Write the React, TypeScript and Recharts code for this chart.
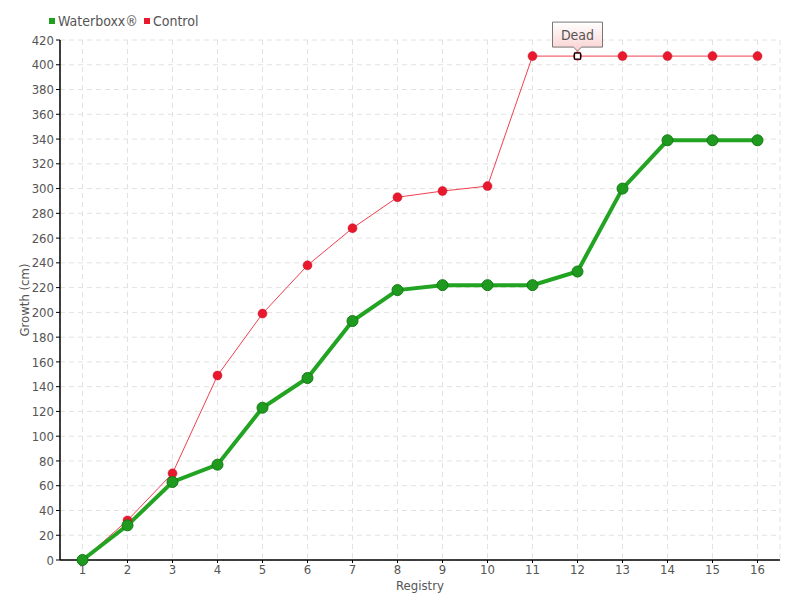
import React from 'react';
import { LineChart, Line, XAxis, YAxis, CartesianGrid } from 'recharts';

const registry = [1, 2, 3, 4, 5, 6, 7, 8, 9, 10, 11, 12, 13, 14, 15, 16];
const waterboxx = [0, 28, 63, 77, 123, 147, 193, 218, 222, 222, 222, 233, 300, 339, 339, 339];
const control = [0, 32, 70, 149, 199, 238, 268, 293, 298, 302, 407, 407, 407, 407, 407, 407];
const yTicks = [0, 20, 40, 60, 80, 100, 120, 140, 160, 180, 200, 220, 240, 260, 280, 300, 320, 340, 360, 380, 400, 420];
const deadAt = 12;
const deadLabel = 'Dead';

const data = registry.map((r, i) => ({ r, w: waterboxx[i], c: control[i] }));

const FONT = '"DejaVu Sans", sans-serif';
const TXT = '#555';
const FS = 13;
const textStyle: any = { fontStretch: 'condensed' };

const ControlDot = (props: any) => {
  const { cx, cy, payload } = props;
  if (payload && payload.r === deadAt) {
    return (
      <g>
        <defs>
          <linearGradient id="deadGrad" x1="0" y1="0" x2="0" y2="1">
            <stop offset="0%" stopColor="#ffffff" />
            <stop offset="100%" stopColor="#fbd0d0" />
          </linearGradient>
        </defs>
        <path
          d={`M ${cx - 25} ${cy - 34} L ${cx + 25} ${cy - 34} L ${cx + 25} ${cy - 9} L ${cx + 4} ${cy - 9} L ${cx} ${cy - 5} L ${cx - 4} ${cy - 9} L ${cx - 25} ${cy - 9} Z`}
          fill="url(#deadGrad)"
          stroke="#777"
          strokeWidth={1}
        />
        <text x={cx} y={cy - 16} textAnchor="middle" fontFamily={FONT} fontSize={14} fill={TXT} style={textStyle}>
          {deadLabel}
        </text>
        <circle cx={cx} cy={cy} r={4.5} fill="#e8192c" />
        <rect x={cx - 3} y={cy - 3} width={6} height={6} fill="#fff" stroke="#000" strokeWidth={1.2} />
      </g>
    );
  }
  return <circle cx={cx} cy={cy} r={4.5} fill="#e8192c" stroke="#c8102a" strokeWidth={0.5} />;
};

const LegendBox = () => (
  <div
    style={{
      position: 'absolute',
      left: 49,
      top: 13,
      fontFamily: FONT,
      fontStretch: 'condensed',
      fontSize: 14,
      color: TXT,
      display: 'flex',
      alignItems: 'center',
    }}
  >
    <span style={{ display: 'inline-block', width: 6, height: 6, background: '#1ea01e', marginRight: 3 }} />
    <span style={{ marginRight: 6 }}>Waterboxx®</span>
    <span style={{ display: 'inline-block', width: 6, height: 6, background: '#e8192c', marginRight: 3 }} />
    <span>Control</span>
  </div>
);

export default function App() {
  return (
    <div style={{ position: 'absolute', left: 0, top: 0, width: 800, height: 600, background: '#fff' }}>
      <LegendBox />
      <LineChart width={800} height={600} data={data} margin={{ top: 40, right: 20, bottom: 0, left: 0 }}>
        <CartesianGrid stroke="#e2e2e2" strokeDasharray="5 4" strokeWidth={1} />
        <XAxis
          dataKey="r"
          type="number"
          domain={[0.5, 16.5]}
          ticks={registry}
          height={40}
          axisLine={{ stroke: '#000', strokeWidth: 1.5 }}
          tickLine={{ stroke: '#000' }}
          tickSize={3}
          tick={{ fill: TXT, fontSize: FS, fontFamily: FONT, style: textStyle }}
          label={{ value: 'Registry', position: 'insideBottom', offset: 10, fill: TXT, fontSize: FS, fontFamily: FONT, style: textStyle }}
        />
        <YAxis
          type="number"
          domain={[0, 420]}
          ticks={yTicks}
          width={60}
          interval={0}
          axisLine={{ stroke: '#000', strokeWidth: 1.5 }}
          tickLine={{ stroke: '#000' }}
          tickSize={4}
          tick={{ fill: TXT, fontSize: FS, fontFamily: FONT, style: textStyle }}
          label={{
            value: 'Growth (cm)',
            angle: -90,
            position: 'insideLeft',
            offset: 24,
            fill: TXT,
            fontSize: FS,
            fontFamily: FONT,
            style: { textAnchor: 'middle', fontStretch: 'condensed' },
          }}
        />
        <Line
          dataKey="c"
          stroke="#f0404f"
          strokeWidth={1}
          dot={<ControlDot />}
          activeDot={false}
          isAnimationActive={false}
        />
        <Line
          dataKey="w"
          stroke="#22a422"
          strokeWidth={4}
          dot={{ r: 5.5, fill: '#1e9a1e', stroke: '#157a15', strokeWidth: 1 }}
          activeDot={false}
          isAnimationActive={false}
        />
      </LineChart>
    </div>
  );
}
